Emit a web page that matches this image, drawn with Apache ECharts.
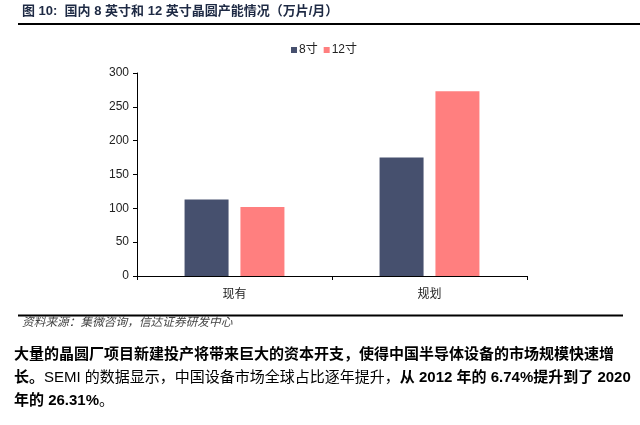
<!DOCTYPE html>
<html><head><meta charset="utf-8">
<script src="https://cdn.jsdelivr.net/npm/echarts@6/dist/echarts.min.js"></script>
<style>html,body{margin:0;padding:0;background:#fff}#c{width:640px;height:425px}</style>
</head><body><div id="c"></div>
<script>
const categories = ['现有', '规划'];
const series8 = [113, 175];
const series12 = [102, 273];
const seriesNames = ['8寸', '12寸'];
const yTicks = {min: 0, max: 300, interval: 50};

const titleText = '图 10:  国内 8 英寸和 12 英寸晶圆产能情况（万片/月）';
const sourceText = '资料来源：集微咨询，信达证券研发中心';

const chart = echarts.init(document.getElementById('c'));
const cjk = '"Liberation Sans", "Noto Sans CJK SC", sans-serif';
chart.setOption({
  animation: false,
  color: ['#46506e', '#ff7f7f'],
  textStyle: {fontFamily: cjk},
  legend: {
    left: 286, top: 39, itemWidth: 6, itemHeight: 6, itemGap: 6,
    icon: 'rect',
    textStyle: {fontSize: 12, color: '#222', padding: [0,0,0,-3]},
    data: seriesNames
  },
  grid: {left: 137, right: 113, top: 73, bottom: 149, containLabel: false},
  xAxis: {
    type: 'category', data: categories,
    axisLine: {lineStyle: {color: '#000', width: 1}},
    axisTick: {show: true, length: 4, lineStyle: {color: '#000'}},
    axisLabel: {fontSize: 12, color: '#222', margin: 13}
  },
  yAxis: {
    type: 'value', min: yTicks.min, max: yTicks.max, interval: yTicks.interval,
    axisLine: {show: true, lineStyle: {color: '#000', width: 1}},
    axisTick: {show: true, length: 4, lineStyle: {color: '#000'}},
    splitLine: {show: false},
    axisLabel: {fontSize: 12, color: '#222', margin: 8}
  },
  series: [
    {name: seriesNames[0], type: 'bar', data: series8, barWidth: 44, barGap: '27%'},
    {name: seriesNames[1], type: 'bar', data: series12, barWidth: 44, barGap: '27%'}
  ],
  graphic: [
    {type: 'text', left: 22, top: 5, style: {text: titleText, font: 'bold 13px "Liberation Sans", "Noto Sans CJK SC", sans-serif', fill: '#1e2a44'}},
    {type: 'line', shape: {x1: 18, y1: 24, x2: 640, y2: 24}, style: {stroke: '#000', lineWidth: 2}},
    {type: 'line', shape: {x1: 18, y1: 315.5, x2: 623, y2: 315.5}, style: {stroke: '#000', lineWidth: 2}},
    {type: 'text', left: 22, top: 316, style: {text: sourceText, font: 'italic 11.7px "Noto Sans CJK SC", sans-serif', fill: '#444'}},
    {type: 'text', left: 14, top: 347, style: {
      text: '{b|大量的晶圆厂项目新建投产将带来巨大的资本开支，使得中国半导体设备的市场规模快速增}\n{b|长。}{n|SEMI 的数据显示，中国设备市场全球占比逐年提升，}{b|从 2012 年的 6.74%提升到了 2020}\n{b|年的 26.31%}{n|。}',
      rich: {
        b: {font: 'bold 15px "Liberation Sans", "Noto Sans CJK SC", sans-serif', fill: '#000', lineHeight: 23},
        n: {font: '15px "Liberation Sans", "Noto Sans CJK SC", sans-serif', fill: '#000', lineHeight: 23}
      }
    }}
  ]
});
</script></body></html>
